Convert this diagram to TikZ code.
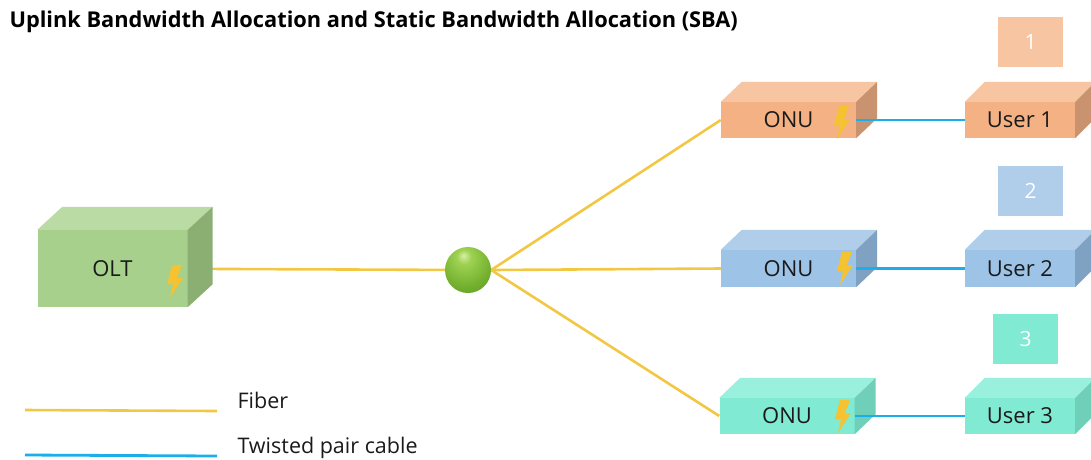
\documentclass[tikz,border=0pt]{standalone}
\usepackage{fontspec}
\setmainfont{Open Sans}
\usetikzlibrary{calc,backgrounds}

\definecolor{oltfront}{HTML}{A6D08C}
\definecolor{olttop}{HTML}{BADBA4}
\definecolor{oltside}{HTML}{8BAF73}
\definecolor{orfront}{HTML}{F4B183}
\definecolor{ortop}{HTML}{F8C5A3}
\definecolor{orside}{HTML}{C8936E}
\definecolor{blfront}{HTML}{9DC3E6}
\definecolor{bltop}{HTML}{B0CDEA}
\definecolor{blside}{HTML}{7FA1C2}
\definecolor{tlfront}{HTML}{80EAD2}
\definecolor{tltop}{HTML}{99F0DC}
\definecolor{tlside}{HTML}{6FCFB8}
\definecolor{fibercol}{HTML}{F2C744}
\definecolor{pairscol}{HTML}{1AAEEB}
\definecolor{boltcol}{HTML}{F5C232}
\definecolor{txt}{HTML}{1A1A1A}

% green splitter ball, lit from above
\pgfdeclareradialshading{splitball}{\pgfpoint{-5bp}{16bp}}{%
  rgb(0bp)=(0.84,0.94,0.64); rgb(8bp)=(0.62,0.82,0.32); rgb(28bp)=(0.45,0.69,0.18);
  rgb(50bp)=(0.33,0.54,0.11); rgb(75bp)=(0.28,0.46,0.09)}

\tikzset{
  front/.style={fill=#1, inner sep=0pt, text=txt, font=\fontsize{22}{24}\selectfont},
  tag/.style={fill=#1, minimum width=65pt, minimum height=50pt, text=white,
    font=\fontsize{21}{23}\selectfont},
  fiber/.style={fibercol, line width=2.6pt},
  pairs/.style={pairscol, line width=2.8pt},
  bolt/.pic={\fill[boltcol] (5,0) -- (15,0) -- (10,13) -- (16,13) -- (3,33) -- (6,19) -- (0,19) -- cycle;}
}

% top and right faces of a box, drawn from its front node
\newcommand{\boxfaces}[5]{%
  \fill[#4] (#1.north west) -- ++(#2,-#3) -- ($(#1.north east)+(#2,-#3)$) -- (#1.north east) -- cycle;
  \fill[#5] (#1.north east) -- ++(#2,-#3) -- ($(#1.south east)+(#2,-#3)$) -- (#1.south east) -- cycle;}

\begin{document}
\begin{tikzpicture}[x=1pt, y=-1pt]
\useasboundingbox (0,0) rectangle (1091,459);

\node[anchor=west, font=\fontsize{21.8}{24}\selectfont\bfseries, text=black] (title) at (6,22)
  {Uplink Bandwidth Allocation and Static Bandwidth Allocation (SBA)};

% OLT
\node[front=oltfront, minimum width=150pt, minimum height=77pt] (olt) at (112.5,268.5) {OLT};
\boxfaces{olt}{25}{23}{olttop}{oltside}
\pic at (167,265) {bolt};

% splitter
\node[circle, minimum size=46pt, inner sep=0pt, shading=splitball] (split) at (468,270) {};

% ONUs
\node[front=orfront, minimum width=135pt, minimum height=36pt] (onu1) at (788.5,120) {ONU};
\boxfaces{onu1}{21}{20}{ortop}{orside}
\pic at (834,106) {bolt};
\node[front=blfront, minimum width=135pt, minimum height=37pt] (onu2) at (788.5,268.5) {ONU};
\boxfaces{onu2}{21}{20}{bltop}{blside}
\pic at (837,252) {bolt};
\node[front=tlfront, minimum width=135pt, minimum height=36pt] (onu3) at (787,416) {ONU};
\boxfaces{onu3}{21}{20}{tltop}{tlside}
\pic at (835,400) {bolt};

% users
\node[front=orfront, minimum width=110pt, minimum height=36pt] (user1) at (1020,120) {User 1};
\boxfaces{user1}{20}{20}{ortop}{orside}
\node[front=blfront, minimum width=110pt, minimum height=37pt] (user2) at (1020,268.5) {User 2};
\boxfaces{user2}{20}{20}{bltop}{blside}
\node[front=tlfront, minimum width=110pt, minimum height=36pt] (user3) at (1020,416) {User 3};
\boxfaces{user3}{20}{20}{tltop}{tlside}

\node[tag=ortop] (tag1) at (1030.5,42) {1};
\node[tag=bltop] (tag2) at (1030.5,191) {2};
\node[tag=tlfront] (tag3) at (1025.5,339) {3};

% fibers
\begin{scope}[on background layer]
\draw[fiber] (olt) -- (split);
\draw[fiber] (split.east) -- (onu1.west);
\draw[fiber] (split.east) -- (onu2.west);
\draw[fiber] (split.east) -- (onu3.west);
\end{scope}

% twisted pair
\draw[pairs] (onu1.east) -- (user1.west);
\draw[pairs] (onu2.east) -- (user2.west);
\draw[pairs] (onu3.east) -- (user3.west);

% legend
\node[anchor=west, text=txt, font=\fontsize{21.5}{23}\selectfont] (fibertxt) at (234,400) {Fiber};
\node[anchor=west, text=txt, font=\fontsize{21.5}{23}\selectfont] (pairstxt) at (234,448) {Twisted pair cable};
\coordinate (fiberstart) at (25,410);
\coordinate (pairsstart) at (25,455);
\draw[fiber] (fiberstart) -- ([xshift=-17pt,yshift=-1pt]fibertxt.west |- fiberstart);
\draw[pairs] (pairsstart) -- ([xshift=-17pt,yshift=-1pt]pairstxt.west |- pairsstart);
\end{tikzpicture}
\end{document}
